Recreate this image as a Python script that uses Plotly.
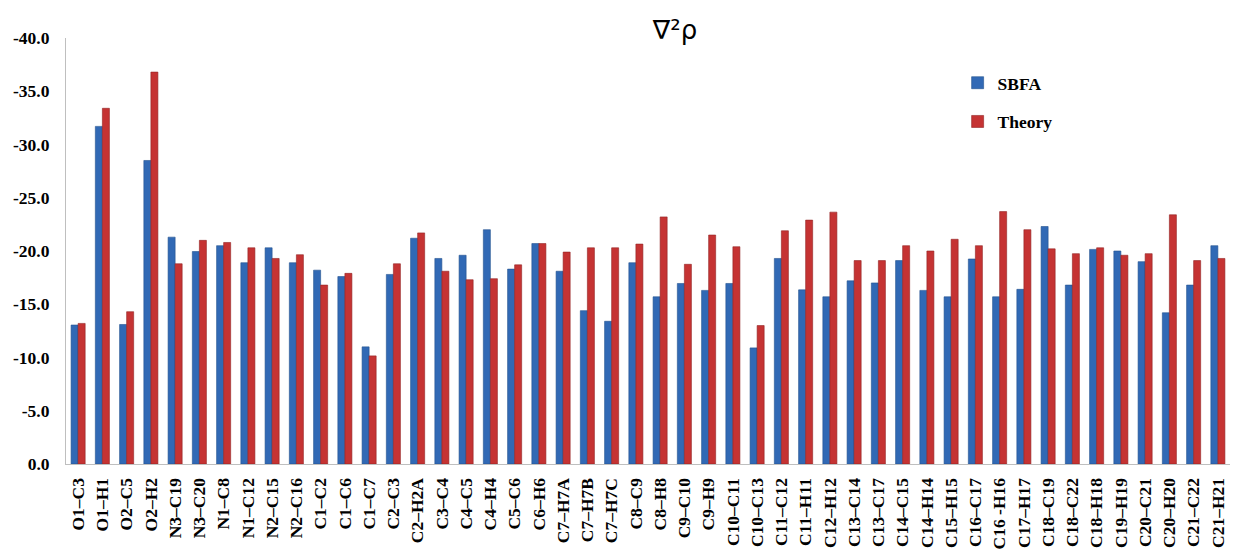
import plotly.graph_objects as go

categories = [
    "O1–C3", "O1–H1", "O2–C5", "O2–H2", "N3–C19", "N3–C20", "N1–C8", "N1–C12",
    "N2–C15", "N2–C16", "C1–C2", "C1–C6", "C1–C7", "C2–C3", "C2–H2A", "C3–C4",
    "C4–C5", "C4–H4", "C5–C6", "C6–H6", "C7–H7A", "C7–H7B", "C7–H7C", "C8–C9",
    "C8–H8", "C9–C10", "C9–H9", "C10–C11", "C10–C13", "C11–C12", "C11–H11", "C12–H12",
    "C13–C14", "C13–C17", "C14–C15", "C14–H14", "C15–H15", "C16–C17", "C16 -H16", "C17–H17",
    "C18–C19", "C18–C22", "C18–H18", "C19–H19", "C20–C21", "C20–H20", "C21–C22", "C21–H21",
]

sbfa = [
    -13.05, -31.7, -13.1, -28.5, -21.3, -19.95, -20.5, -18.9,
    -20.3, -18.9, -18.2, -17.6, -11.0, -17.8, -21.2, -19.3,
    -19.6, -22.0, -18.3, -20.7, -18.1, -14.4, -13.4, -18.9,
    -15.7, -16.95, -16.3, -16.95, -10.9, -19.3, -16.35, -15.7,
    -17.2, -17.0, -19.1, -16.3, -15.7, -19.25, -15.7, -16.4,
    -22.3, -16.8, -20.15, -20.0, -19.0, -14.2, -16.8, -20.5,
]

theory = [
    -13.2, -33.4, -14.3, -36.8, -18.8, -21.0, -20.8, -20.3,
    -19.3, -19.65, -16.8, -17.9, -10.15, -18.8, -21.7, -18.1,
    -17.3, -17.4, -18.7, -20.7, -19.9, -20.3, -20.3, -20.65,
    -23.2, -18.75, -21.5, -20.4, -13.0, -21.9, -22.9, -23.65,
    -19.1, -19.1, -20.5, -20.0, -21.1, -20.5, -23.7, -22.0,
    -20.2, -19.75, -20.3, -19.6, -19.75, -23.4, -19.1, -19.3,
]

y_tick_values = [0, -5, -10, -15, -20, -25, -30, -35, -40]
y_tick_labels = ["0.0", "-5.0", "-10.0", "-15.0", "-20.0", "-25.0", "-30.0", "-35.0", "-40.0"]

serif_bold = dict(family="Liberation Serif", size=17.5, color="black", weight="bold")

fig = go.Figure()
fig.add_trace(go.Bar(
    name="SBFA", x=categories, y=sbfa, legendgroup="a",
    marker=dict(color="#3169b5", line=dict(color="#24528f", width=0.6)),
))
fig.add_trace(go.Bar(
    name="Theory", x=categories, y=theory, legendgroup="b",
    marker=dict(color="#c53333", line=dict(color="#922424", width=0.6)),
))

fig.update_layout(
    width=1233, height=552,
    margin=dict(l=66, r=3, t=38, b=86, pad=0),
    paper_bgcolor="white", plot_bgcolor="white",
    barmode="group", bargap=0.42, bargroupgap=0,
    title=dict(text="∇²ρ", x=675 / 1233, xref="container", xanchor="center",
               y=1 - 30 / 552, yref="container", yanchor="middle",
               font=dict(family="DejaVu Sans", size=26, color="black")),
    legend=dict(x=0.766, xanchor="left", y=0.937, yanchor="top",
                font=serif_bold, tracegroupgap=13, traceorder="grouped",
                bgcolor="rgba(0,0,0,0)"),
    xaxis=dict(tickangle=-90, showline=True, linecolor="#bfbfbf", linewidth=1,
               tickfont=serif_bold, showgrid=False, ticks="", ticklabelstandoff=6),
    yaxis=dict(range=[0, -40], showline=True, linecolor="#bfbfbf", linewidth=1,
               showgrid=False, zeroline=False, ticks="", ticklabelstandoff=12,
               tickvals=y_tick_values, ticktext=y_tick_labels,
               tickfont=serif_bold),
)

fig.write_html("out.html")
